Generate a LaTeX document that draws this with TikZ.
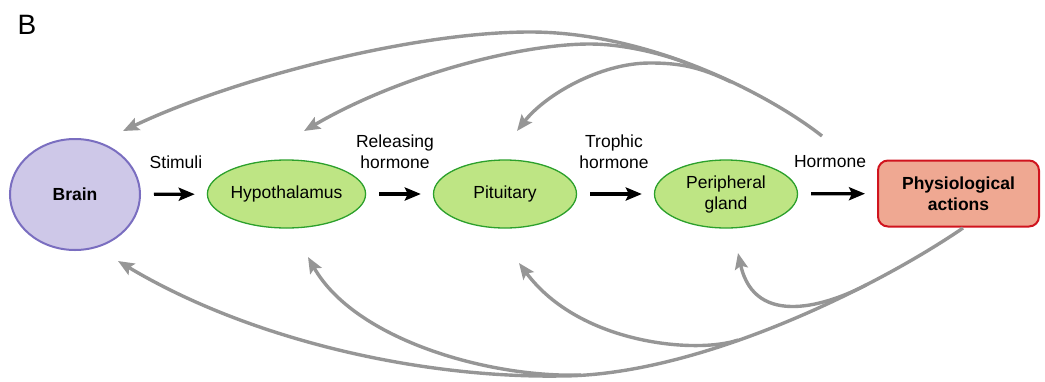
\documentclass[tikz,border=0pt]{standalone}
\usepackage{fontspec}
\setmainfont{Liberation Sans}
\usetikzlibrary{shapes.geometric,arrows.meta}
\definecolor{fbgray}{RGB}{150,150,150}
\definecolor{brainfill}{RGB}{206,200,232}
\definecolor{braindraw}{RGB}{122,110,192}
\definecolor{gfill}{RGB}{190,229,132}
\definecolor{gdraw}{RGB}{44,160,44}
\definecolor{afill}{RGB}{239,168,146}
\definecolor{adraw}{RGB}{208,20,30}
\tikzset{
  txt/.style={font=\fontsize{17.5}{21}\selectfont, align=center, inner sep=0pt},
  gland/.style={ellipse, draw=gdraw, fill=gfill, line width=1.3pt,
    minimum width=143pt, minimum height=68pt, inner sep=0pt, txt},
  brainshape/.style={ellipse, draw=braindraw, fill=brainfill, line width=2pt,
    minimum width=130pt, minimum height=111pt, inner sep=0pt, txt},
  actbox/.style={rectangle, rounded corners=10pt, draw=adraw, fill=afill, line width=2pt,
    minimum width=161pt, minimum height=66pt, inner sep=0pt, txt},
  flow/.style={-{Stealth[length=16pt,width=13pt,inset=3pt]}, line width=3.2pt, black,
    shorten <=13pt, shorten >=12pt},
  fback/.style={-{Stealth[length=16pt,width=13pt,inset=3pt]}, line width=3.4pt, draw=fbgray,
    color=fbgray},
}
\begin{document}
\begin{tikzpicture}[x=1pt,y=-1pt]
\useasboundingbox (0,0) rectangle (1045,381);
\node[font=\fontsize{28}{34}\selectfont, inner sep=0pt] (lblB) at (27,25) {B};

\node[brainshape] (brain) at (75,194.5) {\textbf{Brain}};
\node[gland] (hyp) at (286.5,194) {Hypothalamus};
\node[gland] (pit) at (505,194) {Pituitary};
\node[gland] (per) at (726,194) {Peripheral\\gland};
\node[actbox] (act) at (958.5,193.5) {\textbf{Physiological}\\\textbf{actions}};

\node[txt] (lstim) at (176,162) {Stimuli};
\node[txt] (lrel) at (395,152) {Releasing\\hormone};
\node[txt] (ltro) at (614,152) {Trophic\\hormone};
\node[txt] (lhor) at (830,162) {Hormone};

\draw[flow] (brain) -- (hyp);
\draw[flow] (hyp) -- (pit);
\draw[flow] (pit) -- (per);
\draw[flow] (per) -- (act);

% top feedback
\coordinate (ts) at (822,136);
\coordinate (tb1) at (685,62.5);
\coordinate (tb2) at (731,82);
\coordinate (tbrain) at (123,131);
\coordinate (thyp) at (304,131);
\coordinate (tpit) at (517,131);
\draw[fback] (ts) .. controls (770,95) and (650,32) .. (530,32)
  .. controls (410,32) and (230,80) .. (tbrain);
\draw[fback] (tb1) .. controls (657,52) and (620,44) .. (590,44)
  .. controls (520,44) and (400,75) .. (thyp);
\draw[fback] (tb2) .. controls (700,67) and (680,63) .. (650,63)
  .. controls (600,63) and (545,95) .. (tpit);

% bottom feedback
\coordinate (bs) at (963,228);
\coordinate (bb1) at (866,285);
\coordinate (bb2) at (738,340);
\coordinate (bb3) at (581,375);
\coordinate (bbrain) at (118,261);
\coordinate (bhyp) at (308,257);
\coordinate (bpit) at (519,263);
\coordinate (bper) at (738,253);
\draw[fback] (bs) .. controls (880,285) and (700,376) .. (560,376)
  .. controls (420,378) and (250,340) .. (bbrain);
\draw[fback] (bb1) .. controls (830,304) and (755,330) .. (bper);
\draw[fback] (bb2) .. controls (698,354) and (580,345) .. (bpit);
\draw[fback] (bb3) .. controls (490,378) and (355,340) .. (bhyp);
\end{tikzpicture}
\end{document}
